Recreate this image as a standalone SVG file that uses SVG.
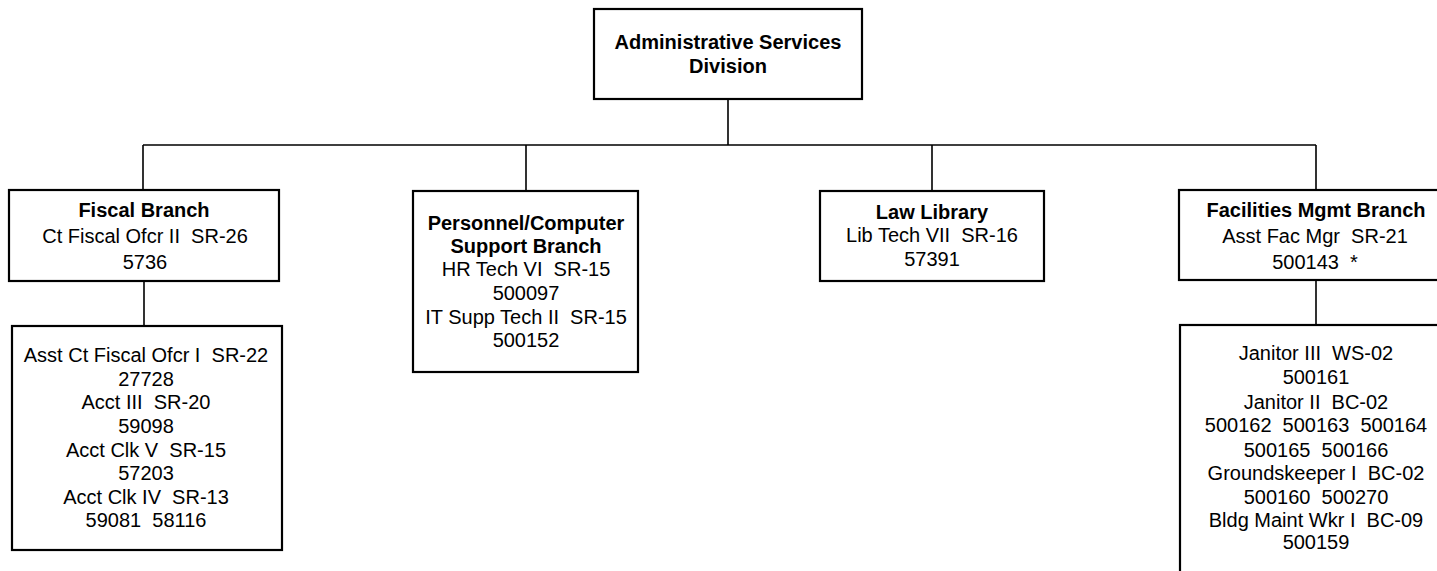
<svg xmlns="http://www.w3.org/2000/svg" width="1437" height="571" viewBox="0 0 1437 571">
<style>
.box{fill:#fff;stroke:#000;stroke-width:2.2}
.conn{fill:none;stroke:#000;stroke-width:1.6}
text{font-family:"Liberation Sans",Arial,sans-serif;font-size:20px;fill:#000;text-anchor:middle}
.b{font-weight:bold}
</style>
<rect width="1437" height="571" fill="#fff"/>
<g id="connectors">
<path class="conn" d="M728,99 V145 M143,145 H1316 M143,145 V190 M526,145 V191 M932,145 V191 M1316,145 V190 M144,281 V326 M1316,280 V325"/>
</g>
<g id="admin">
<rect class="box" x="594" y="9" width="268" height="90"/>
<text class="b" x="728" y="49">Administrative Services</text>
<text class="b" x="728" y="73">Division</text>
</g>
<g id="fiscal">
<rect class="box" x="9" y="190" width="270" height="91"/>
<text class="b" x="144" y="217">Fiscal Branch</text>
<text x="145" y="243" xml:space="preserve">Ct Fiscal Ofcr II  SR-26</text>
<text x="145" y="269">5736</text>
</g>
<g id="fiscal-staff">
<rect class="box" x="12" y="326" width="270" height="224"/>
<text x="146" y="362" xml:space="preserve">Asst Ct Fiscal Ofcr I  SR-22</text>
<text x="146" y="386">27728</text>
<text x="146" y="409" xml:space="preserve">Acct III  SR-20</text>
<text x="146" y="433">59098</text>
<text x="146" y="457" xml:space="preserve">Acct Clk V  SR-15</text>
<text x="146" y="480">57203</text>
<text x="146" y="504" xml:space="preserve">Acct Clk IV  SR-13</text>
<text x="146" y="527" xml:space="preserve">59081  58116</text>
</g>
<g id="personnel">
<rect class="box" x="413" y="191" width="225" height="181"/>
<text class="b" x="526" y="230">Personnel/Computer</text>
<text class="b" x="526" y="253">Support Branch</text>
<text x="526" y="276" xml:space="preserve">HR Tech VI  SR-15</text>
<text x="526" y="300">500097</text>
<text x="526" y="324" xml:space="preserve">IT Supp Tech II  SR-15</text>
<text x="526" y="347">500152</text>
</g>
<g id="lawlib">
<rect class="box" x="820" y="191" width="224" height="90"/>
<text class="b" x="932" y="219">Law Library</text>
<text x="932" y="242" xml:space="preserve">Lib Tech VII  SR-16</text>
<text x="932" y="266">57391</text>
</g>
<g id="facilities">
<rect class="box" x="1179" y="190" width="274" height="90"/>
<text class="b" x="1316" y="217">Facilities Mgmt Branch</text>
<text x="1315" y="243" xml:space="preserve">Asst Fac Mgr  SR-21</text>
<text x="1315" y="269" xml:space="preserve">500143  *</text>
</g>
<g id="facilities-staff">
<rect class="box" x="1180" y="325" width="274" height="270"/>
<text x="1316" y="360" xml:space="preserve">Janitor III  WS-02</text>
<text x="1316" y="384">500161</text>
<text x="1316" y="409" xml:space="preserve">Janitor II  BC-02</text>
<text x="1316" y="432" xml:space="preserve">500162  500163  500164</text>
<text x="1316" y="457" xml:space="preserve">500165  500166</text>
<text x="1316" y="480" xml:space="preserve">Groundskeeper I  BC-02</text>
<text x="1316" y="504" xml:space="preserve">500160  500270</text>
<text x="1316" y="527" xml:space="preserve">Bldg Maint Wkr I  BC-09</text>
<text x="1316" y="549">500159</text>
</g>
</svg>
